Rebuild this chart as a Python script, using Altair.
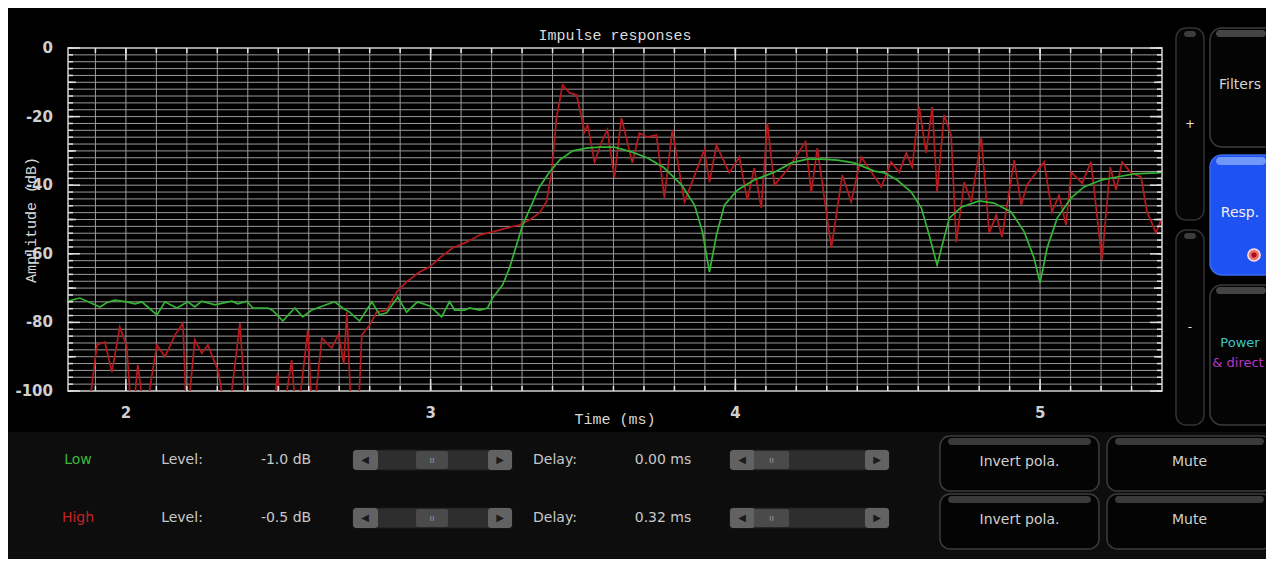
import altair as alt
import pandas as pd

# ---------------- data ----------------
low_t = [1.810, 1.849, 1.915, 1.938, 1.964, 2.003, 2.030, 2.052, 2.102, 2.128,
         2.167, 2.203, 2.226, 2.249, 2.292, 2.348, 2.367, 2.397, 2.416, 2.466,
         2.482, 2.515, 2.554, 2.580, 2.610, 2.646, 2.685, 2.711, 2.734, 2.767,
         2.807, 2.833, 2.856, 2.892, 2.921, 2.957, 2.997, 3.036, 3.062, 3.079,
         3.111, 3.128, 3.161, 3.187, 3.203, 3.236, 3.259, 3.282, 3.302, 3.331,
         3.357, 3.390, 3.423, 3.466, 3.511, 3.554, 3.603, 3.659, 3.711, 3.767,
         3.823, 3.866, 3.892, 3.915, 3.938, 3.964, 4.007, 4.062, 4.128, 4.184,
         4.236, 4.282, 4.334, 4.390, 4.456, 4.489, 4.531, 4.577, 4.610, 4.636,
         4.662, 4.679, 4.702, 4.741, 4.800, 4.849, 4.905, 4.948, 4.980, 5.000,
         5.023, 5.056, 5.102, 5.144, 5.200, 5.252, 5.308, 5.384, 5.400]
low_db = [-73.8, -72.9, -75.5, -74.2, -73.5, -74.0, -74.6, -74.0, -77.8, -74.0,
          -75.8, -74.0, -75.5, -73.8, -74.9, -73.8, -74.6, -73.8, -75.8, -75.8,
          -76.5, -79.6, -75.8, -78.4, -76.4, -75.2, -74.0, -75.8, -77.0, -79.6,
          -74.0, -77.8, -77.2, -72.6, -77.0, -74.0, -75.2, -78.4, -74.0, -76.4,
          -76.4, -75.8, -76.4, -75.8, -72.9, -69.1, -64.1, -57.4, -51.6, -45.8,
          -40.5, -36.2, -32.7, -30.0, -29.2, -28.9, -28.9, -30.3, -32.0, -35.0,
          -39.9, -45.8, -53.6, -65.3, -54.5, -45.8, -41.4, -38.5, -36.2, -33.5,
          -32.4, -32.4, -32.7, -33.5, -35.9, -36.4, -38.5, -42.0, -46.6, -54.5,
          -63.3, -57.4, -49.6, -46.4, -44.6, -45.2, -47.8, -53.6, -61.2, -68.5,
          -58.3, -49.6, -43.7, -40.5, -38.5, -37.6, -36.7, -36.4, -36.3]

high_t = [1.872, 1.905, 1.931, 1.954, 1.980, 2.003, 2.020, 2.039, 2.062, 2.102,
          2.128, 2.161, 2.187, 2.200, 2.226, 2.249, 2.269, 2.302, 2.334, 2.374,
          2.397, 2.479, 2.498, 2.511, 2.544, 2.561, 2.597, 2.613, 2.643, 2.675,
          2.698, 2.715, 2.725, 2.741, 2.761, 2.774, 2.800, 2.823, 2.856, 2.889,
          2.921, 2.964, 2.997, 3.030, 3.072, 3.118, 3.161, 3.203, 3.249, 3.292,
          3.325, 3.357, 3.380, 3.397, 3.413, 3.433, 3.456, 3.479, 3.495, 3.505,
          3.515, 3.538, 3.561, 3.580, 3.603, 3.626, 3.662, 3.685, 3.711, 3.741,
          3.767, 3.793, 3.833, 3.898, 3.915, 3.938, 3.980, 4.013, 4.039, 4.062,
          4.085, 4.105, 4.128, 4.170, 4.230, 4.249, 4.269, 4.315, 4.351, 4.380,
          4.413, 4.479, 4.511, 4.538, 4.561, 4.580, 4.603, 4.626, 4.646, 4.662,
          4.685, 4.708, 4.725, 4.751, 4.774, 4.807, 4.833, 4.856, 4.875, 4.915,
          4.938, 4.957, 5.013, 5.039, 5.062, 5.085, 5.102, 5.138, 5.167, 5.203,
          5.230, 5.249, 5.269, 5.298, 5.331, 5.351, 5.380, 5.397]
high_db = [-110.0, -86.6, -85.7, -94.5, -81.3, -87.2, -110.0, -92.4, -108.0, -86.6,
           -90.0, -83.7, -80.2, -110.0, -85.1, -89.0, -86.6, -93.9, -110.0, -80.2,
           -110.0, -110.0, -94.8, -110.0, -91.0, -110.0, -82.2, -110.0, -84.5, -87.5,
           -83.5, -92.0, -77.0, -110.0, -110.0, -83.7, -80.8, -77.0, -76.4, -71.1,
           -68.2, -65.3, -63.8, -61.2, -58.3, -56.6, -54.5, -53.6, -52.5, -51.6,
           -50.1, -48.1, -44.9, -36.2, -20.4, -10.8, -13.1, -13.7, -20.1, -24.5,
           -22.4, -33.2, -27.4, -23.9, -37.9, -20.4, -33.5, -24.8, -26.0, -25.4,
           -43.7, -23.9, -44.9, -29.7, -39.1, -28.3, -36.4, -31.8, -44.3, -35.0,
           -46.6, -21.9, -39.9, -35.6, -27.4, -42.0, -29.2, -58.3, -37.0, -44.9,
           -31.8, -40.5, -33.2, -36.2, -30.6, -34.7, -17.2, -30.6, -17.2, -42.0,
           -19.5, -25.4, -56.6, -39.1, -44.9, -26.2, -53.9, -48.7, -55.1, -32.7,
           -45.8, -39.9, -33.2, -47.8, -42.9, -51.6, -36.2, -39.4, -33.2, -61.8,
           -34.7, -41.4, -33.2, -36.4, -37.6, -47.8, -53.9, -50.1]

channels = ["High", "Low"]
channel_colors = ["#b8191c", "#35b535"]

# axis ticks / labels
x_major = [2, 3, 4, 5]
x_major_labels = ["2", "3", "4", "5"]
x_minor = [round(1.9 + 0.1 * i, 1) for i in range(35)]
y_minor = list(range(-100, 1, 2))
y_mid = [-90, -70, -50, -30, -10]
y_major = [-100, -80, -60, -40, -20, 0]
y_major_labels = ["-100", "-80", "-60", "-40", "-20", "0"]

chart_title = "Impulse responses"
x_title = "Time (ms)"
y_title = "Amplitude (dB)"

# control panel texts
row_names = ["Low", "High"]
row_colors = ["#3cb83c", "#c42222"]
level_values = ["-1.0 dB", "-0.5 dB"]
delay_values = ["0.00 ms", "0.32 ms"]

df = pd.DataFrame({
    "t": high_t + low_t,
    "db": high_db + low_db,
    "ch": ["High"] * len(high_t) + ["Low"] * len(low_t),
})

W, H = 1094, 343
OX, OY = 68, 48  # plot origin on the page (for the UI decoration)

xs = alt.Scale(domain=[1.81, 5.40], nice=False, zero=False)
ys = alt.Scale(domain=[-100, 0], nice=False, zero=False)

GRID = "#9a9a9a"
TICK = "#e0e0e0"
LABEL = "#cfcfcf"

grid_v = alt.Chart(pd.DataFrame({"t": x_minor})).mark_rule(color=GRID, strokeWidth=1).encode(
    x=alt.X("t:Q", scale=xs, axis=None), y=alt.value(0), y2=alt.value(H))
grid_h = alt.Chart(pd.DataFrame({"db": y_minor})).mark_rule(color=GRID, strokeWidth=1).encode(
    y=alt.Y("db:Q", scale=ys, axis=None), x=alt.value(0), x2=alt.value(W))

lines = alt.Chart(df).mark_line(clip=True, strokeWidth=1.7).encode(
    x=alt.X("t:Q", scale=xs, axis=None),
    y=alt.Y("db:Q", scale=ys, axis=None),
    color=alt.Color("ch:N", scale=alt.Scale(domain=channels, range=channel_colors), legend=None),
)

x_labels = alt.Chart(pd.DataFrame({"t": x_major, "lab": x_major_labels})).mark_text(
    font="DejaVu Sans", fontWeight="bold", fontSize=15, color=LABEL, baseline="middle").encode(
    x=alt.X("t:Q", scale=xs, axis=None), y=alt.value(413 - OY), text="lab:N")
y_labels = alt.Chart(pd.DataFrame({"db": y_major, "lab": y_major_labels})).mark_text(
    font="DejaVu Sans", fontWeight="bold", fontSize=15, color=LABEL, baseline="middle",
    align="right").encode(
    y=alt.Y("db:Q", scale=ys, axis=None), x=alt.value(53 - OX), text="lab:N")


def xticks(vals, y1, y2):
    return alt.Chart(pd.DataFrame({"t": vals})).mark_rule(color=TICK, strokeWidth=1.5).encode(
        x=alt.X("t:Q", scale=xs, axis=None), y=alt.value(y1), y2=alt.value(y2))


def yticks(vals, x1, x2):
    return alt.Chart(pd.DataFrame({"db": vals})).mark_rule(color=TICK, strokeWidth=1.5).encode(
        y=alt.Y("db:Q", scale=ys, axis=None), x=alt.value(x1), x2=alt.value(x2))


tick_layers = [
    xticks(x_minor, H, H - 5), xticks(x_major, H, H - 12),
    xticks(x_minor, 0, 5), xticks(x_major, 0, 12),
    yticks(y_minor, 0, 5), yticks(y_mid, 0, 8), yticks(y_major, 0, 12),
    yticks(y_minor, W, W - 5), yticks(y_mid, W, W - 8), yticks(y_major, W, W - 12),
]

ONE = alt.Data(values=[{}])


def R(x1, y1, x2, y2, fill, stroke=None, r=0, sw=1.0):
    kw = dict(fill=fill, cornerRadius=r)
    if stroke:
        kw.update(stroke=stroke, strokeWidth=sw)
    return alt.Chart(ONE).mark_rect(**kw).encode(
        x=alt.value(x1 - OX), x2=alt.value(x2 - OX), y=alt.value(y1 - OY), y2=alt.value(y2 - OY))


def T(s, x, y, color="#c8c8c8", size=14, font="DejaVu Sans", weight="normal", align="center", angle=0):
    return alt.Chart(ONE).mark_text(text=s, color=color, fontSize=size, font=font,
                                    fontWeight=weight, align=align, baseline="middle",
                                    angle=angle).encode(
        x=alt.value(x - OX), y=alt.value(y - OY))


def P(x, y, size, fill, stroke=None, sw=1.0):
    kw = dict(shape="circle", filled=True, fill=fill, size=size, opacity=1)
    if stroke:
        kw.update(stroke=stroke, strokeWidth=sw)
    return alt.Chart(ONE).mark_point(**kw).encode(x=alt.value(x - OX), y=alt.value(y - OY))


titles = [
    T(chart_title, 615, 35, "#dcdcdc", 15, "Liberation Mono"),
    T(x_title, 615, 419, "#d8d8d8", 15, "Liberation Mono"),
    T(y_title, 31, 220, "#d8d8d8", 15, "Liberation Mono", angle=270),
]

ui = []
# bottom panel background
ui.append(R(0, 432, 1276, 580, "#0d0d0d"))


def slider(x1, x2, knob1, knob2, yc):
    return [R(x1, yc - 10, x2, yc + 10, "#2e2e2e", "#1c1c1c", 3),
            R(x1, yc - 10, x1 + 25, yc + 10, "#626262", None, 3),
            R(x2 - 24, yc - 10, x2, yc + 10, "#626262", None, 3),
            R(knob1, yc - 9, knob2, yc + 9, "#4a4a4a", None, 2),
            T("◀", x1 + 12, yc, "#1a1a1a", 10),
            T("▶", x2 - 12, yc, "#1a1a1a", 10),
            T("ıı", (knob1 + knob2) / 2, yc, "#9a9a9a", 9)]


def button(x1, x2, y1, y2, label):
    return [R(x1, y1, x2, y2, "#040404", "#3c3c3c", 10, 1.5),
            R(x1 + 8, y1 + 2, x2 - 8, y1 + 9, "#3a3a3a", None, 4),
            T(label, (x1 + x2) / 2, (y1 + y2) / 2 - 2, "#d0d0d0", 14)]


row_y = [460, 518]
for i, yc in enumerate(row_y):
    ui.append(T(row_names[i], 78, yc, row_colors[i], 14))
    ui.append(T("Level:", 182, yc))
    ui.append(T(level_values[i], 286, yc))
    ui += slider(353, 512, 416, 448, yc)
    ui.append(T("Delay:", 555, yc))
    ui.append(T(delay_values[i], 663, yc))
    ui += slider(730, 889, 754, 789, yc)
    ui += button(940, 1099, yc - 24, yc + 31, "Invert pola.")
    ui += button(1107, 1272, yc - 24, yc + 31, "Mute")

# right column
ui += [R(1176, 28, 1204, 220, "#050505", "#333333", 10, 1.5),
       R(1184, 31, 1196, 37, "#3c3c3c", None, 3),
       T("+", 1190, 124, "#e0e0e0", 12),
       R(1176, 230, 1204, 425, "#050505", "#333333", 10, 1.5),
       R(1184, 233, 1196, 239, "#3c3c3c", None, 3),
       T("-", 1190, 327, "#e0e0e0", 12)]
ui += [R(1210, 28, 1276, 147, "#040404", "#3c3c3c", 12, 1.5),
       R(1216, 30, 1266, 37, "#444444", None, 4),
       T("Filters", 1240, 85, "#d4d4d4", 14)]
ui += [R(1210, 155, 1276, 275, "#1e52f2", "#3a6cf5", 12, 1.5),
       R(1216, 157, 1266, 165, "#6f98f8", None, 4),
       T("Resp.", 1240, 213, "#f0f0f0", 14),
       P(1254, 255, 150, "#e87878", "#ffe0e0", 1.5),
       P(1254, 255, 30, "#b01010")]
ui += [R(1210, 285, 1276, 425, "#040404", "#3c3c3c", 12, 1.5),
       R(1216, 287, 1266, 294, "#444444", None, 4),
       T("Power", 1240, 343, "#3cc4c4", 13),
       T("& direct", 1238, 363, "#b436c4", 13)]

chart = alt.layer(grid_v, grid_h, lines, *tick_layers, x_labels, y_labels, *titles, *ui).properties(
    width=W, height=H,
    autosize=alt.AutoSizeParams(type="none"),
    padding={"left": 60, "top": 40, "right": 104, "bottom": 168},
    background="#000000",
).configure_view(fill="#000000", stroke="#d4d4d4", strokeWidth=1.5)

chart.save("out.html", embed_options={"renderer": "svg", "actions": False})
